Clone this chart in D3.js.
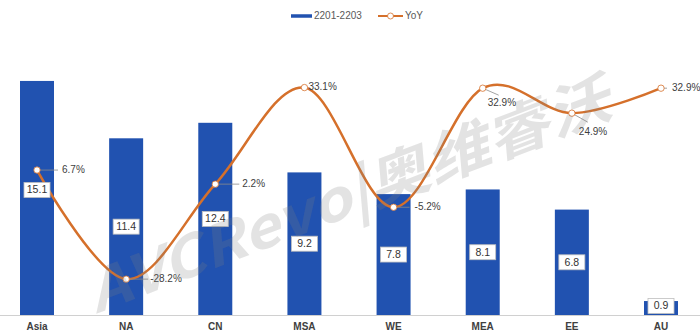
<!DOCTYPE html>
<html>
<head>
<meta charset="utf-8">
<script src="https://cdn.jsdelivr.net/npm/d3@7"></script>
<style>
  body { margin: 0; background: #fff; }
  svg { display: block; font-family: "Liberation Sans", "DejaVu Sans", sans-serif; }
</style>
</head>
<body>
<div class="chart"></div>
<script>
var categories = ["Asia", "NA", "CN", "MSA", "WE", "MEA", "EE", "AU"];
var shipments = [15.1, 11.4, 12.4, 9.2, 7.8, 8.1, 6.8, 0.9];
var yoy = [6.7, -28.2, 2.2, 33.1, -5.2, 32.9, 24.9, 32.9];
var seriesNames = ["2201-2203", "YoY"];

// where each yoy label sits relative to its point: [text dx, text dy, leader x2, leader y2]
var yoyLabelPos = [
    [25, 0, 21, 0],
    [24, 0, 22, 0],
    [27, 0, 24, 0],
    [4, 0, 0, 0],
    [21, 0, 16, 0],
    [5, 15, 16, 7],
    [7, 19, 16, 9],
    [11, 0, 6, 0]
];

var width = 700, height = 335;
var baseY = 315;
var barW = 34;
var blue = "#2152b0", orange = "#d5702b";

var svg = d3.select(".chart").append("svg")
    .attr("width", width)
    .attr("height", height);

var x = d3.scalePoint().domain(categories).range([37, 661]);
var yBar = d3.scaleLinear().domain([0, 16]).range([baseY, 67]);
var yLine = d3.scaleLinear().domain([-40, 40]).range([316, 66]);

// axis line
svg.append("line")
    .attr("x1", 0).attr("x2", width)
    .attr("y1", baseY + 0.5).attr("y2", baseY + 0.5)
    .attr("stroke", "#d0d0d0");

// bars
svg.selectAll("rect.bar").data(shipments).enter().append("rect")
    .attr("class", "bar")
    .attr("x", function(d, i) { return x(categories[i]) - barW / 2; })
    .attr("y", function(d) { return yBar(d); })
    .attr("width", barW)
    .attr("height", function(d) { return baseY - yBar(d); })
    .attr("fill", blue);

// category labels
svg.selectAll("text.cat").data(categories).enter().append("text")
    .attr("class", "cat")
    .attr("x", function(d) { return x(d); })
    .attr("y", 327)
    .attr("text-anchor", "middle")
    .attr("dominant-baseline", "middle")
    .attr("font-size", 10)
    .attr("font-weight", "bold")
    .attr("fill", "#404040")
    .text(function(d) { return d; });

// yoy line
var line = d3.line()
    .x(function(d, i) { return x(categories[i]); })
    .y(function(d) { return yLine(d); })
    .curve(d3.curveCardinal.tension(0));

svg.append("path")
    .attr("d", line(yoy))
    .attr("fill", "none")
    .attr("stroke", orange)
    .attr("stroke-width", 2.5);

// bar value labels in boxes, on top of the line
var vl = svg.selectAll("g.vlab").data(shipments).enter().append("g")
    .attr("class", "vlab")
    .attr("transform", function(d, i) {
        var cy = (yBar(d) + baseY) / 2;
        if (d < 2) cy = yBar(d) + 5;
        if (i == 0) cy -= 8; // pushed up a bit in the original
        return "translate(" + x(categories[i]) + "," + cy + ")";
    });
vl.append("rect")
    .attr("x", -13).attr("y", -7.5)
    .attr("width", 26).attr("height", 15)
    .attr("fill", "#fff")
    .attr("stroke", "#bfbfbf")
    .attr("stroke-width", 0.8);
vl.append("text")
    .attr("text-anchor", "middle")
    .attr("dominant-baseline", "middle")
    .attr("y", 0.5)
    .attr("font-size", 10.5)
    .attr("fill", "#333")
    .text(function(d) { return d.toFixed(1); });

// leader lines
svg.selectAll("line.leader").data(yoy).enter().append("line")
    .attr("class", "leader")
    .attr("x1", function(d, i) { return x(categories[i]); })
    .attr("y1", function(d) { return yLine(d); })
    .attr("x2", function(d, i) { return x(categories[i]) + yoyLabelPos[i][2]; })
    .attr("y2", function(d, i) { return yLine(d) + yoyLabelPos[i][3]; })
    .attr("stroke", "#8c8c8c")
    .attr("stroke-width", 0.8);

svg.selectAll("circle.pt").data(yoy).enter().append("circle")
    .attr("class", "pt")
    .attr("cx", function(d, i) { return x(categories[i]); })
    .attr("cy", function(d) { return yLine(d); })
    .attr("r", 3.2)
    .attr("fill", "#fff")
    .attr("stroke", orange)
    .attr("stroke-width", 0.8);

svg.selectAll("text.yoy").data(yoy).enter().append("text")
    .attr("class", "yoy")
    .attr("x", function(d, i) { return x(categories[i]) + yoyLabelPos[i][0]; })
    .attr("y", function(d, i) { return yLine(d) + yoyLabelPos[i][1]; })
    .attr("dominant-baseline", "middle")
    .attr("font-size", 10)
    .attr("fill", "#404040")
    .text(function(d) { return d.toFixed(1) + "%"; });

// legend
var leg = svg.append("g").attr("font-size", 10).attr("fill", "#595959");
leg.append("line").attr("x1", 291).attr("x2", 312).attr("y1", 16).attr("y2", 16)
    .attr("stroke", blue).attr("stroke-width", 3.5);
leg.append("text").attr("x", 314).attr("y", 16).attr("dominant-baseline", "middle").text(seriesNames[0]);
leg.append("line").attr("x1", 378).attr("x2", 403).attr("y1", 16).attr("y2", 16)
    .attr("stroke", orange).attr("stroke-width", 2);
leg.append("circle").attr("cx", 390.5).attr("cy", 16).attr("r", 3)
    .attr("fill", "#fff").attr("stroke", orange).attr("stroke-width", 0.8);
leg.append("text").attr("x", 405).attr("y", 16).attr("dominant-baseline", "middle").text(seriesNames[1]);

// watermark
svg.append("text")
    .attr("transform", "translate(350,200) rotate(-21)")
    .attr("text-anchor", "middle")
    .attr("dominant-baseline", "middle")
    .attr("font-family", "'Noto Sans CJK SC', sans-serif")
    .attr("font-weight", "bold")
    .attr("font-style", "italic")
    .attr("font-size", 56)
    .attr("textLength", 555)
    .attr("lengthAdjust", "spacingAndGlyphs")
    .attr("fill", "#808080")
    .attr("fill-opacity", 0.22)
    .text("AVCRevo|奥维睿沃");
</script>
</body>
</html>
